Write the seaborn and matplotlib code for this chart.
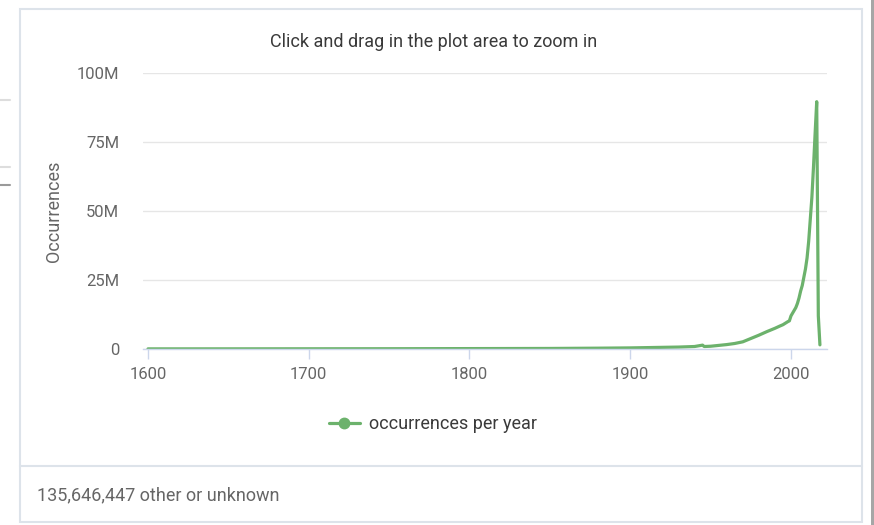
import numpy as np
import pandas as pd
import matplotlib
matplotlib.use("Agg")
import matplotlib.pyplot as plt
from matplotlib.patches import Rectangle
from matplotlib.lines import Line2D
import seaborn as sns

# values (occurrences per year, in millions)
years = [1600, 1650, 1700, 1750, 1800, 1850, 1880, 1900, 1910, 1920, 1930, 1940,
         1945, 1946, 1950, 1955, 1960, 1965, 1970, 1975, 1980, 1985, 1990, 1993,
         1995, 1998, 1999, 2000, 2001, 2002, 2003, 2004, 2005, 2006, 2007, 2008,
         2009, 2010, 2011, 2012, 2013, 2014, 2015, 2016, 2017, 2018]
occ_millions = [0.05, 0.06, 0.08, 0.1, 0.15, 0.2, 0.3, 0.4, 0.5, 0.6, 0.7, 0.9,
                1.4, 0.9, 1.0, 1.3, 1.6, 2.0, 2.6, 3.8, 5.0, 6.3, 7.5, 8.3,
                8.8, 9.9, 10.2, 12.0, 13.0, 14.0, 15.0, 16.5, 18.5, 21.0, 23.0, 26.0,
                29.0, 33.0, 39.0, 47.0, 55.0, 66.0, 78.0, 89.6, 12.0, 1.5]
y_ticks = [0, 25e6, 50e6, 75e6, 100e6]
y_tick_labels = ["0", "25M", "50M", "75M", "100M"]
x_ticks = [1600, 1700, 1800, 1900, 2000]

title = "Click and drag in the plot area to zoom in"
y_title = "Occurrences"
series_name = "occurrences per year"
footer = "135,646,447 other or unknown"

df = pd.DataFrame({"year": years, "occurrences": np.array(occ_millions) * 1e6})

green = "#6cb26c"
W, H = 874, 525

sns.set_theme(style="white")
plt.rcParams["font.family"] = ["Roboto", "DejaVu Sans"]

fig = plt.figure(figsize=(W / 100, H / 100), dpi=100)
fig.patch.set_facecolor("white")

def px(x0, y0, x1, y1):
    return [x0 / W, 1 - y1 / H, (x1 - x0) / W, (y1 - y0) / H]

ax = fig.add_axes(px(143, 73, 827, 349))
sns.lineplot(data=df, x="year", y="occurrences", ax=ax, color=green,
             linewidth=2.3, label=series_name, legend=False)

ax.set_xlim(1596.9, 2022.4)
ax.set_ylim(0, 100e6)
ax.set_yticks(y_ticks)
ax.set_yticklabels(y_tick_labels)
ax.set_xticks(x_ticks)
ax.set_xlabel("")
ax.set_ylabel(y_title, fontsize=13, color="#666666")
ax.yaxis.set_label_coords(-0.117, 0.5)

for s in ["top", "right", "left"]:
    ax.spines[s].set_visible(False)
ax.spines["bottom"].set_color("#ccd6eb")
ax.spines["bottom"].set_linewidth(1)
ax.grid(axis="y", color="#e6e6e6", linewidth=1)
ax.set_axisbelow(True)
ax.tick_params(axis="y", length=0, pad=17, labelsize=12, labelcolor="#666666")
ax.tick_params(axis="x", length=7, width=1, color="#ccd6eb", pad=6,
               labelsize=12, labelcolor="#666666", bottom=True)

fig.text(434 / W, 1 - 42 / H, title, ha="center", va="center",
         fontsize=13, color="#3a3a3a")

handle = Line2D([], [], color=green, linewidth=2.3, marker="o", markersize=7.5)
fig.legend([handle], [series_name], loc="center",
           bbox_to_anchor=(433 / W, 1 - 424 / H), frameon=False,
           fontsize=13, labelcolor="#3a3a3a", handlelength=1.7,
           handletextpad=0.5)

# card frame and footer
border = "#dde3ea"
fig.patches.append(Rectangle((20 / W, 1 - 522 / H), 842 / W, 513 / H,
                             transform=fig.transFigure, fill=False,
                             edgecolor=border, linewidth=1.5))
fig.lines.append(Line2D([20 / W, 862 / W], [1 - 466 / H, 1 - 466 / H],
                        transform=fig.transFigure, color=border, linewidth=1.5))
fig.text(37 / W, 1 - 495 / H, footer, ha="left", va="center",
         fontsize=13, color="#666666")

# page bits around the card
fig.patches.append(Rectangle((871 / W, 0), 3 / W, 1, transform=fig.transFigure,
                             color="#a6a6a6", linewidth=0))
for yy, c in [(100, "#dddddd"), (167, "#dddddd"), (185, "#9a9a9a")]:
    fig.lines.append(Line2D([0, 10 / W], [1 - yy / H, 1 - yy / H],
                            transform=fig.transFigure, color=c, linewidth=1.5))

fig.savefig("out.png", dpi=100)
